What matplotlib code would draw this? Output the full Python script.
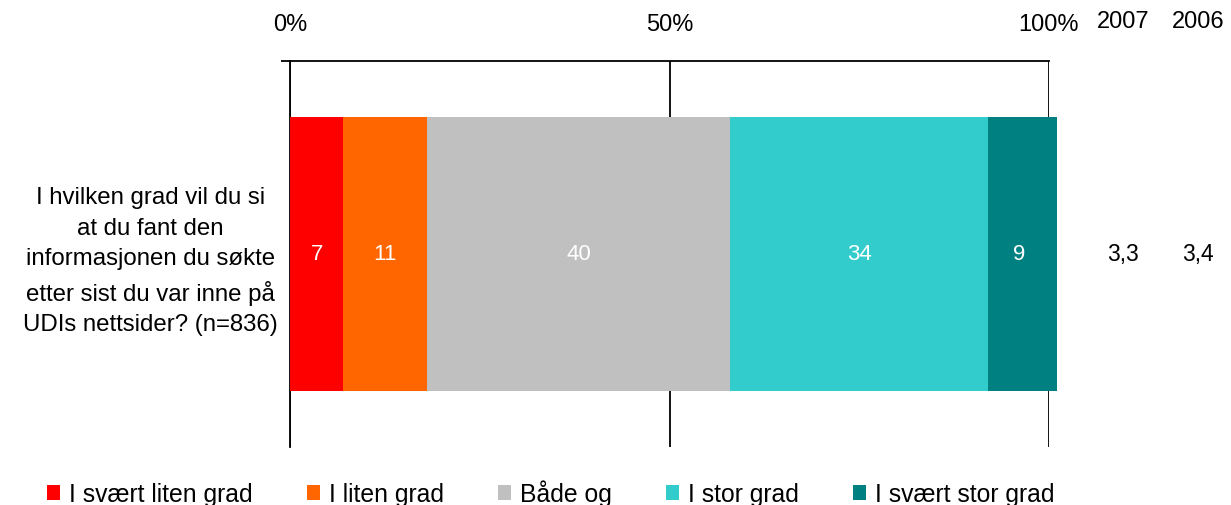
import matplotlib.pyplot as plt
from matplotlib.patches import Patch

plt.rcParams['font.family'] = ['Liberation Sans', 'DejaVu Sans']

question = "I hvilken grad vil du si\nat du fant den\ninformasjonen du søkte\netter sist du var inne på\nUDIs nettsider? (n=836)"
categories = ["I svært liten grad", "I liten grad", "Både og", "I stor grad", "I svært stor grad"]
values = [7, 11, 40, 34, 9]
colors = ["#FF0000", "#FF6600", "#C0C0C0", "#33CCCC", "#008080"]
years = ["2007", "2006"]
year_means = ["3,3", "3,4"]

fig = plt.figure(figsize=(12.31, 5.06), dpi=100)
ax = fig.add_axes([290/1231, 1 - 448/506, 759/1231, 386/506])

left = 0
for val, col in zip(values, colors):
    bars = ax.barh(0, val, left=left, height=0.712, color=col, clip_on=False, zorder=3)
    ax.bar_label(bars, labels=[str(val)], label_type='center', color='white', fontsize=16)
    left += val

ax.set_xlim(0, 100)
ax.set_ylim(-0.5, 0.5)
ax.set_xticks([0, 50, 100])
ax.set_xticklabels(['0%', '50%', '100%'], fontsize=17)
ax.xaxis.tick_top()
ax.tick_params(axis='x', length=0, pad=19)
ax.grid(axis='x', color='black', lw=1.3, zorder=1)

ax.set_yticks([0.5])
ax.set_yticklabels([''])
ax.tick_params(axis='y', which='major', length=6.5, width=1.3, direction='out')
ax.set_yticks([0], minor=True)
ax.set_yticklabels([question], minor=True, fontsize=17.3, multialignment='center', linespacing=1.5)
ax.tick_params(axis='y', which='minor', length=0, pad=9)

for s in ['right', 'bottom']:
    ax.spines[s].set_visible(False)
ax.spines['top'].set_linewidth(1.3)
ax.spines['left'].set_linewidth(1.3)

year_x = [1123/1231, 1198/1231]
for x, yr, m in zip(year_x, years, year_means):
    fig.text(x, 1 - 22/506, yr, ha='center', va='center', fontsize=17)
    fig.text(x, 1 - 255/506, m, ha='center', va='center', fontsize=16.5)

handles = [Patch(facecolor=c, edgecolor='none') for c in colors]
fig.legend(handles, categories, loc='center left', bbox_to_anchor=(47/1231, 1 - 494/506),
           ncol=5, frameon=False, fontsize=17.8, handlelength=0.53, handleheight=0.53,
           handletextpad=0.35, columnspacing=2.2, borderpad=0, borderaxespad=0)

fig.savefig('out.png', dpi=100)
